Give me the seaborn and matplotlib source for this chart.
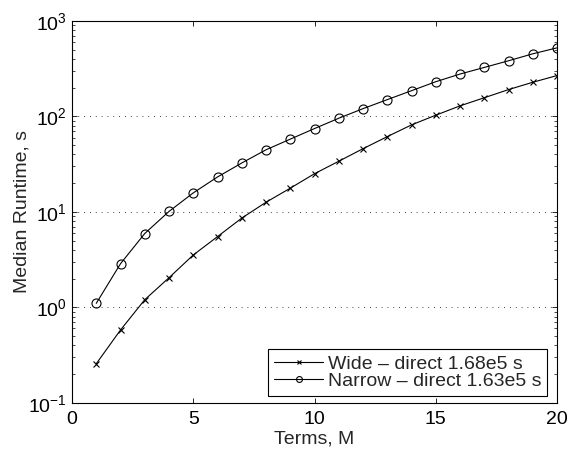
import matplotlib
matplotlib.use("Agg")
import matplotlib.pyplot as plt
import seaborn as sns
import pandas as pd
import numpy as np
from matplotlib.ticker import LogLocator, NullFormatter, MultipleLocator

terms = list(range(1, 21))
wide = [0.256, 0.578, 1.2, 2.04, 3.53, 5.5, 8.6, 12.6, 17.7, 25.1,
        33.9, 45.9, 61.4, 81.5, 103, 129, 157, 191, 228, 268]
narrow = [1.1, 2.86, 5.93, 10.1, 15.8, 23.2, 32.5, 44.7, 57.8, 74.6,
          95.7, 120.6, 150, 186, 231, 278, 326, 383, 453, 523]
labels = ["Wide \u2013 direct 1.68e5 s", "Narrow \u2013 direct 1.63e5 s"]

df_wide = pd.DataFrame({"Terms": terms, "Runtime": wide})
df_narrow = pd.DataFrame({"Terms": terms, "Runtime": narrow})

sns.set_theme(style="ticks")
plt.rcParams['font.family'] = ['Liberation Sans', 'DejaVu Sans']
plt.rcParams['mathtext.fontset'] = 'custom'
plt.rcParams['mathtext.rm'] = 'Liberation Sans'
plt.rcParams['mathtext.it'] = 'Liberation Sans'

FS = 14

fig = plt.figure(figsize=(5.68, 4.5), dpi=100)
ax = fig.add_axes([72/568, 1 - 402.7/450, (557-72)/568, (402.7-21)/450])

sns.lineplot(data=df_wide, x="Terms", y="Runtime", color="black", marker="x",
             markersize=4.5, markeredgecolor="black", markeredgewidth=0.8,
             linewidth=0.8, label=labels[0], ax=ax)
sns.lineplot(data=df_narrow, x="Terms", y="Runtime", color="black", marker="o",
             markersize=6.5, markerfacecolor="none", markeredgecolor="black",
             markeredgewidth=0.8, linewidth=0.8, label=labels[1], ax=ax)

ax.set_yscale("log")
ax.set_ylim(0.1, 1000)
ax.set_xlim(0, 20)
ax.xaxis.set_major_locator(MultipleLocator(5))
ax.yaxis.set_major_locator(LogLocator(base=10, numticks=10))
ax.yaxis.set_minor_locator(LogLocator(base=10, subs=np.arange(2, 10), numticks=20))
ax.yaxis.set_minor_formatter(NullFormatter())
ax.tick_params(which="both", direction="in", top=True, right=True, labelsize=FS, colors="black")
ax.tick_params(which="major", length=3.5, width=0.6)
ax.tick_params(axis="x", which="major", pad=6)
ax.tick_params(axis="y", which="major", pad=4)
ax.tick_params(which="minor", length=2, width=0.5)
for s in ax.spines.values():
    s.set_linewidth(0.8)
    s.set_color("black")

ax.yaxis.grid(True, which="major", linestyle=(0, (1, 6)), color="black", linewidth=0.6)
ax.xaxis.grid(False)

ax.set_xlabel("Terms, M", fontsize=FS, labelpad=2)
ax.set_ylabel("Median Runtime, s", fontsize=FS, labelpad=-2)

handles, labs = ax.get_legend_handles_labels()
leg = ax.legend(handles, labs, loc="lower right", fontsize=FS, frameon=True, fancybox=False,
                edgecolor="black", framealpha=1, borderpad=0.3, handlelength=2.5,
                handletextpad=0.25, labelspacing=0.0, markerscale=0.65,
                bbox_to_anchor=((547 - 72) / 485, (402.7 - 396) / 381.7), borderaxespad=0)
leg.get_frame().set_linewidth(0.8)

fig.savefig("out.png", dpi=100)
